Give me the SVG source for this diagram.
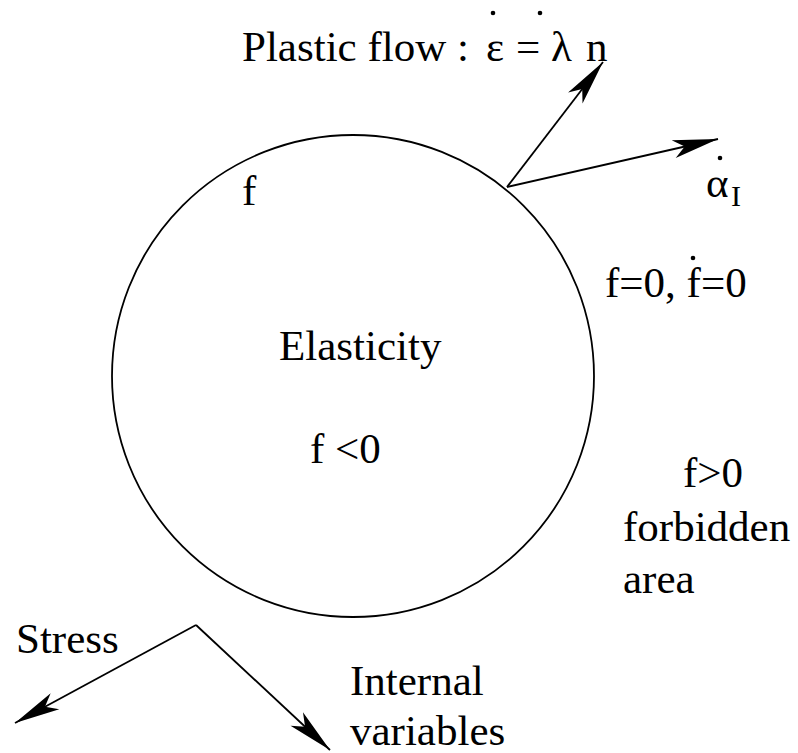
<svg xmlns="http://www.w3.org/2000/svg" width="798" height="753" viewBox="0 0 798 753" font-family="'Liberation Serif', 'Times New Roman', serif" font-size="43">
<style>
.ln{stroke:#000;stroke-width:1.8;fill:none}
.dot{fill:#000}
</style>
<defs>
<marker id="ah" markerUnits="userSpaceOnUse" markerWidth="50" markerHeight="30" viewBox="-42 -10 44 20" refX="0" refY="0" orient="auto" overflow="visible">
<path d="M0,0 L-40,-8 L-30,0 L-40,8 Z" fill="#000"/>
</marker>
</defs>
<rect width="798" height="753" fill="#fff"/>
<g id="yield-surface">
<circle cx="353" cy="376" r="241" class="ln"/>
<text x="242" y="205">f</text>
<text x="279" y="360">Elasticity</text>
<text x="310" y="463">f &lt;0</text>
</g>
<g id="plastic-flow">
<text x="242" y="61">Plastic flow :</text>
<text x="486" y="61">ε</text>
<text x="516" y="61">=</text>
<text x="551" y="61">λ</text>
<text x="586" y="61">n</text>
<circle cx="493" cy="13" r="2.3" class="dot"/>
<circle cx="540" cy="13" r="2.3" class="dot"/>
</g>
<g id="alpha">
<text x="706" y="197">α</text>
<text x="731" y="206" font-size="30">I</text>
<circle cx="720" cy="158" r="2.3" class="dot"/>
</g>
<g id="consistency">
<text x="605" y="297">f=0, f=0</text>
<circle cx="693" cy="258" r="2.3" class="dot"/>
</g>
<g id="forbidden">
<text x="683" y="487">f&gt;0</text>
<text x="623" y="541">forbidden</text>
<text x="623" y="593">area</text>
</g>
<g id="axes-labels">
<text x="16" y="653">Stress</text>
<text x="350" y="695">Internal</text>
<text x="350" y="745">variables</text>
</g>
<g id="connectors">
<line x1="507" y1="187" x2="603" y2="62" class="ln" marker-end="url(#ah)"/>
<line x1="507" y1="187" x2="718" y2="139" class="ln" marker-end="url(#ah)"/>
<line x1="196" y1="625" x2="15" y2="723" class="ln" marker-end="url(#ah)"/>
<line x1="196" y1="625" x2="330" y2="750" class="ln" marker-end="url(#ah)"/>
</g>
</svg>
